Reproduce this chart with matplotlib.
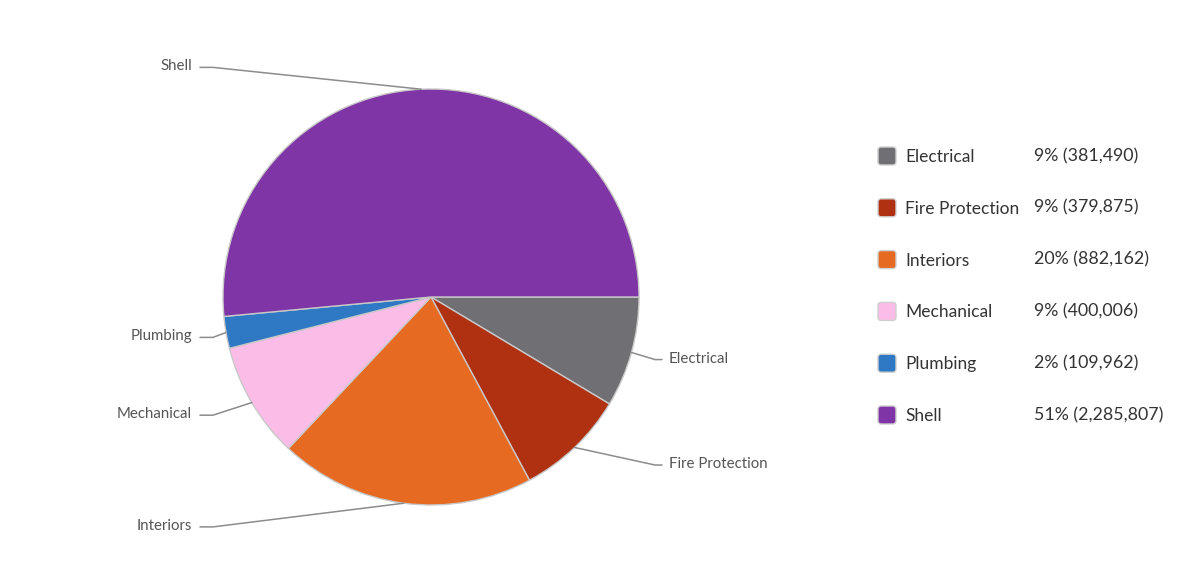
import numpy as np
import matplotlib
matplotlib.use("Agg")
import matplotlib.pyplot as plt
from matplotlib.patches import FancyBboxPatch

plt.rcParams['font.family'] = ['Lato', 'DejaVu Sans']

# cost breakdown by trade
categories = ['Electrical', 'Fire Protection', 'Interiors', 'Mechanical', 'Plumbing', 'Shell']
amounts = [381490, 379875, 882162, 400006, 109962, 2285807]
colors = ['#707074', '#b03012', '#e66a22', '#fbbde8', '#2f78c4', '#7f35a6']

W, H = 1196, 566
cx, cy, R = 431, 297, 208

fig = plt.figure(figsize=(W / 100, H / 100), dpi=100, facecolor='white')
ax = fig.add_axes([0, 0, 1, 1])
ax.set_xlim(0, W)
ax.set_ylim(H, 0)  # y down so the pie runs clockwise on screen

wedges, _ = ax.pie(amounts, colors=colors, startangle=0, counterclock=True,
                   center=(cx, cy), radius=R,
                   wedgeprops=dict(edgecolor='#c8c8c8', linewidth=1.0))
ax.set_xlim(0, W)
ax.set_ylim(H, 0)
ax.set_aspect('equal')
ax.axis('off')

# outside labels with leader lines
total = sum(amounts)
for w, name in zip(wedges, categories):
    mid = np.deg2rad((w.theta1 + w.theta2) / 2)
    ex, ey = cx + R * np.cos(mid), cy + R * np.sin(mid)
    ly = cy + 1.11 * R * np.sin(mid)
    if np.cos(mid) >= 0:
        tx, knee, end = 669, 655, 662
        ha = 'left'
    else:
        tx, knee, end = 192, 213, 200
        ha = 'right'
    ax.plot([ex, knee, end], [ey, ly + 1, ly + 1], color='#8c8c8c', lw=1.1,
            solid_capstyle='round')
    ax.text(tx, ly, name, ha=ha, va='center', fontsize=10.8, color='#555555')

# legend on the right
for i, (name, amt, c) in enumerate(zip(categories, amounts, colors)):
    y = 156 + i * 51.8
    ax.add_patch(FancyBboxPatch((878, y - 9), 18, 18,
                                boxstyle='round,pad=0,rounding_size=3',
                                facecolor=c, edgecolor='#cfcfcf', lw=1.0))
    ax.text(905, y + 1, name, ha='left', va='center', fontsize=12.5, color='#333333')
    pct = round(amt / total * 100)
    ax.text(1034, y, f'{pct}% ({amt:,})', ha='left', va='center',
            fontsize=12.8, color='#333333')

fig.savefig('out.png', dpi=100, facecolor='white')
